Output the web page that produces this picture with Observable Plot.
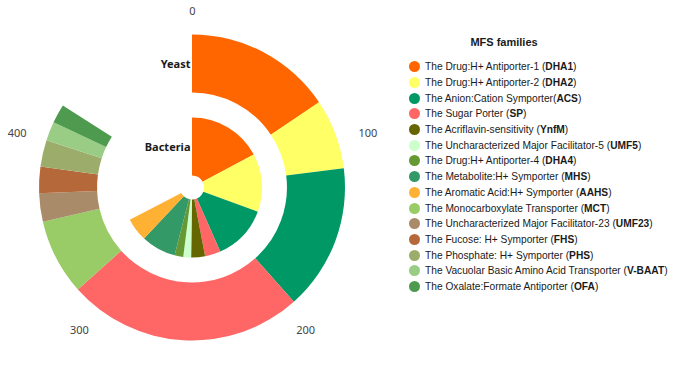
<!DOCTYPE html>
<html>
<head>
<meta charset="utf-8">
<script src="https://cdn.jsdelivr.net/npm/d3@7"></script>
<script src="https://cdn.jsdelivr.net/npm/@observablehq/plot@0.6"></script>
<style>
  html, body { margin: 0; padding: 0; background: #fff; }
  #wrap { position: relative; width: 685px; height: 374px; font-family: Arial, "Liberation Sans", sans-serif; overflow: hidden; }
  #chart { position: absolute; left: 0; top: 0; }
  #legend { position: absolute; left: 409px; top: 33px; width: 276px; color: #1a1a1a; }
  #legend .title { font-weight: bold; font-size: 11px; text-align: center; width: 190px; height: 18px; line-height: 18px; margin-bottom: 8px; }
  #legend .row { display: flex; align-items: center; height: 15.7px; font-size: 10.2px; white-space: nowrap; }
  #legend .dot { width: 11px; height: 11px; border-radius: 50%; margin-right: 5px; flex: none; }
</style>
</head>
<body>
<div id="wrap">
  <div id="chart"></div>
  <div id="legend"></div>
</div>
<script>
// ---------- data ----------
const groups = ["Bacteria", "Yeast"];
const families = ["DHA1", "DHA2", "ACS", "SP", "YnfM", "UMF5", "DHA4", "MHS", "AAHS", "MCT", "UMF23", "FHS", "PHS", "V-BAAT", "OFA"];
const familyLabels = [
  "The Drug:H+ Antiporter-1 (",
  "The Drug:H+ Antiporter-2 (",
  "The Anion:Cation Symporter(",
  "The Sugar Porter (",
  "The Acriflavin-sensitivity (",
  "The Uncharacterized Major Facilitator-5 (",
  "The Drug:H+ Antiporter-4 (",
  "The Metabolite:H+ Symporter (",
  "The Aromatic Acid:H+ Symporter (",
  "The Monocarboxylate Transporter (",
  "The Uncharacterized Major Facilitator-23 (",
  "The Fucose: H+ Symporter (",
  "The Phosphate: H+ Symporter (",
  "The Vacuolar Basic Amino Acid Transporter (",
  "The Oxalate:Formate Antiporter ("
];
const familyColors = ["#FF6600", "#FFFF66", "#009966", "#FF6666", "#666600", "#CCFFCC", "#669933", "#339966", "#FFB133", "#99CC66", "#A98A69", "#B5693A", "#9CAD6B", "#99CC85", "#4E9A4E"];
const bacteriaCounts = [86, 67, 64, 18, 16, 9, 10, 40, 27, 0, 0, 0, 0, 0, 0];
const yeastCounts    = [78, 37, 77, 125, 0, 0, 0, 0, 0, 40, 15, 14, 14, 10, 10];
const angleTicks = [0, 100, 200, 300, 400];
const angleMax = 500;
const legendTitle = "MFS families";

// ---------- table ----------
const rows = [];
families.forEach((f, i) => {
  if (bacteriaCounts[i] > 0) rows.push({group: "Bacteria", family: f, value: bacteriaCounts[i]});
});
families.forEach((f, i) => {
  if (yeastCounts[i] > 0) rows.push({group: "Yeast", family: f, value: yeastCounts[i]});
});

// ---------- layout ----------
const W = 400, H = 374;
const cx = 192, cy = 187.5;

function bw(scales) {
  const s = scales.y;
  if (s && typeof s.bandwidth === "function") return s.bandwidth();
  if (scales.scales && scales.scales.y) return scales.scales.y.bandwidth;
  return 58;
}

const chart = Plot.plot({
  width: W,
  height: H,
  margin: 0,
  style: {background: "transparent", overflow: "visible"},
  x: {type: "linear", domain: [0, angleMax], range: [0, 2 * Math.PI], axis: null},
  y: {type: "band", domain: groups, range: [12, 153], paddingInner: 0.3, paddingOuter: 0, round: false, axis: null},
  color: {type: "ordinal", domain: families, range: familyColors},
  marks: [
    Plot.barX(rows, Plot.stackX({
      x: "value",
      y: "group",
      fill: "family",
      order: null,
      render(index, scales, values) {
        const band = bw(scales);
        const arc = d3.arc();
        const g = d3.create("svg:g").attr("transform", `translate(${cx},${cy})`);
        g.selectAll("path")
          .data(Array.from(index))
          .join("path")
          .attr("fill", i => values.fill[i])
          .attr("d", i => arc({
            innerRadius: values.y[i],
            outerRadius: values.y[i] + band,
            startAngle: values.x1[i],
            endAngle: values.x2[i]
          }));
        return g.node();
      }
    })),
    // angular tick labels
    Plot.text(angleTicks, {
      x: d => d,
      text: d => String(d),
      fontSize: 11,
      fill: "#444",
      textAnchor: "middle",
      lineAnchor: "middle",
      render(index, scales, values, dimensions, context, next) {
        const half = bw(scales) / 2; // text mark shifts by half a band on a band y scale
        const X = new Float64Array(values.x.length);
        const Y = new Float64Array(values.x.length);
        const R = 176.5;
        for (const i of index) {
          const a = values.x[i];
          const push = 3 + 16 * Math.abs(Math.cos(a));
          X[i] = cx + (R + push) * Math.sin(a);
          Y[i] = cy - R * Math.cos(a) - half;
        }
        return next(index, scales, {...values, x: X, y: Y}, dimensions, context);
      }
    }),
    // group labels
    Plot.text(groups, {
      x: () => 0,
      y: d => d,
      text: d => d,
      fontSize: 11,
      fontWeight: "bold",
      fill: "#1a1a1a",
      textAnchor: "end",
      lineAnchor: "middle",
      render(index, scales, values, dimensions, context, next) {
        const half = bw(scales) / 2;
        const X = new Float64Array(values.y.length);
        const Y = new Float64Array(values.y.length);
        for (const i of index) {
          X[i] = cx - 2;
          Y[i] = cy - (values.y[i] + half) - half;
        }
        return next(index, scales, {...values, x: X, y: Y}, dimensions, context);
      }
    })
  ]
});
document.getElementById("chart").appendChild(chart);

// ---------- legend ----------
const legend = document.getElementById("legend");
const t = document.createElement("div");
t.className = "title";
t.textContent = legendTitle;
legend.appendChild(t);
families.forEach((f, i) => {
  const row = document.createElement("div");
  row.className = "row";
  const dot = document.createElement("span");
  dot.className = "dot";
  dot.style.background = familyColors[i];
  row.appendChild(dot);
  const txt = document.createElement("span");
  txt.appendChild(document.createTextNode(familyLabels[i]));
  const b = document.createElement("b");
  b.textContent = f;
  txt.appendChild(b);
  txt.appendChild(document.createTextNode(")"));
  row.appendChild(txt);
  legend.appendChild(row);
});
</script>
</body>
</html>
